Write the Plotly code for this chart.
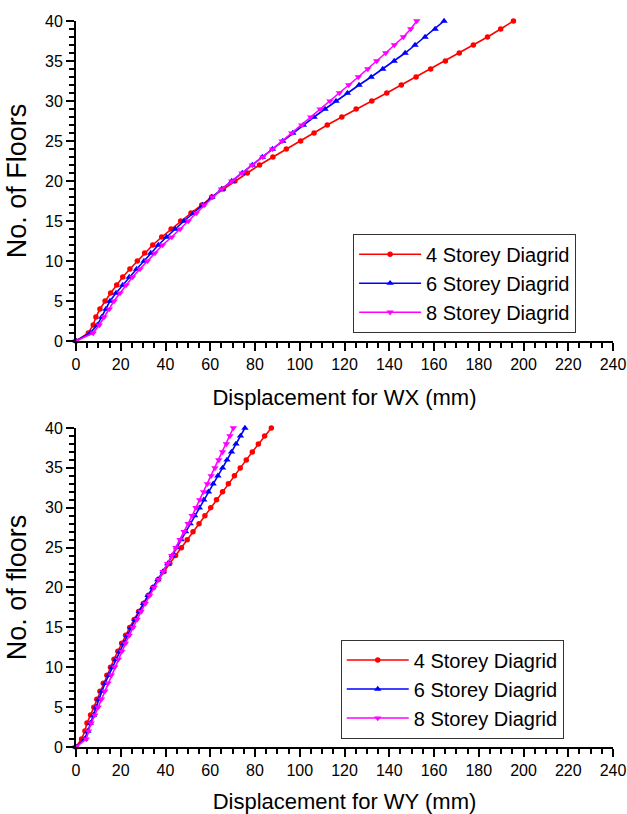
import plotly.graph_objects as go

floors = list(range(0, 41))

# Top panel: displacement for WX (mm)
wx_4 = [0, 5.5, 7.7, 8.9, 10.7, 13.0, 15.5, 18.2, 20.9, 24.1, 27.4, 30.7, 34.3, 38.3, 42.5,
        46.8, 51.4, 56.2, 60.7, 65.9, 71.0, 76.6, 82.0, 88.0, 94.0, 100.4, 106.4, 112.3, 118.8,
        125.2, 132.2, 138.9, 145.4, 152.0, 158.5, 165.1, 171.3, 177.6, 183.9, 189.8, 195.5]
wx_6 = [0, 6.3, 9.5, 11.5, 13.4, 15.2, 17.9, 20.9, 23.8, 27.1, 30.4, 33.4, 36.8, 40.5, 44.3,
        48.3, 52.5, 56.6, 60.7, 65.1, 69.6, 74.3, 78.8, 83.3, 87.8, 92.4, 96.9, 101.6, 106.4,
        111.3, 116.2, 121.3, 126.5, 131.9, 137.1, 142.2, 147.1, 151.5, 156.0, 160.5, 164.5]
wx_8 = [0, 7.7, 10.4, 12.5, 14.9, 17.0, 19.7, 22.4, 25.3, 28.6, 31.9, 35.3, 38.7, 42.8, 46.5,
        50.2, 53.8, 57.3, 61.0, 65.0, 69.6, 74.2, 78.8, 83.5, 87.8, 92.1, 96.4, 100.9, 104.9,
        109.1, 113.5, 117.7, 121.9, 126.2, 130.4, 134.4, 138.4, 142.3, 146.3, 149.6, 152.3]

# Bottom panel: displacement for WY (mm)
wy_4 = [0, 2.5, 4.0, 4.9, 6.5, 8.0, 9.3, 10.7, 12.2, 13.8, 15.4, 17.0, 18.7, 20.4, 22.2,
        24.0, 26.0, 28.0, 30.1, 32.2, 34.4, 36.8, 39.3, 41.9, 44.5, 47.1, 49.7, 52.3, 55.0,
        57.6, 60.2, 62.8, 65.5, 68.1, 70.8, 73.4, 76.1, 78.8, 81.5, 84.3, 87.3]
wy_6 = [0, 3.8, 5.3, 6.4, 7.8, 9.0, 10.2, 11.6, 13.0, 14.6, 16.2, 17.9, 19.6, 21.3, 23.0,
        24.6, 26.4, 28.3, 30.2, 32.2, 34.3, 36.6, 38.9, 41.0, 43.0, 45.0, 47.0, 49.0, 51.0,
        53.0, 55.1, 57.1, 59.2, 61.3, 63.4, 65.5, 67.5, 69.5, 71.5, 73.5, 75.5]
wy_8 = [0, 4.6, 5.6, 6.8, 8.4, 9.9, 11.4, 12.9, 14.3, 15.8, 17.3, 18.9, 20.5, 22.1, 23.8,
        25.5, 27.3, 29.1, 31.0, 32.9, 34.9, 36.9, 38.9, 40.9, 42.8, 44.7, 46.5, 48.3, 50.1,
        51.9, 53.6, 55.3, 57.0, 58.7, 60.4, 62.1, 63.8, 65.5, 67.2, 68.8, 70.3]

series_names = ["4 Storey Diagrid", "6 Storey Diagrid", "8 Storey Diagrid"]
colors = ["#FF0000", "#0000FF", "#FF00FF"]
symbols = ["circle", "triangle-up", "triangle-down"]
msizes = [5.5, 6.5, 6.5]

x_ticks = list(range(0, 241, 20))
y_ticks = list(range(0, 41, 5))

FONT = "Liberation Sans, Arial, sans-serif"

fig = go.Figure()
for i, (vals, name) in enumerate(zip([wx_4, wx_6, wx_8], series_names)):
    fig.add_trace(go.Scatter(
        x=vals, y=floors, mode="lines+markers", name=name,
        line=dict(color=colors[i], width=1.6),
        marker=dict(symbol=symbols[i], size=msizes[i], color=colors[i]),
        xaxis="x", yaxis="y", legend="legend", cliponaxis=False))
for i, (vals, name) in enumerate(zip([wy_4, wy_6, wy_8], series_names)):
    fig.add_trace(go.Scatter(
        x=vals, y=floors, mode="lines+markers", name=name,
        line=dict(color=colors[i], width=1.6),
        marker=dict(symbol=symbols[i], size=msizes[i], color=colors[i]),
        xaxis="x2", yaxis="y2", legend="legend2", cliponaxis=False))

def xaxis(title, anchor):
    return dict(
        range=[0, 240], tickvals=x_ticks, showgrid=False, zeroline=False,
        showline=True, linecolor="black", linewidth=2, mirror=False,
        ticks="outside", ticklen=8, tickwidth=2, tickcolor="black",
        minor=dict(ticks="outside", ticklen=5, tickwidth=1.5, tickcolor="black", dtick=5, showgrid=False),
        tickfont=dict(family=FONT, size=16, color="black"), ticklabeloverflow="allow",
        title=dict(text=title, font=dict(family=FONT, size=22, color="black"), standoff=17),
        anchor=anchor, domain=[0, 1])

def yaxis(title, anchor, domain):
    return dict(
        range=[0, 40], tickvals=y_ticks, showgrid=False, zeroline=False,
        showline=True, linecolor="black", linewidth=2, mirror=False,
        ticks="outside", ticklen=8, tickwidth=2, tickcolor="black",
        minor=dict(ticks="outside", ticklen=5, tickwidth=1.5, tickcolor="black", dtick=1, showgrid=False),
        tickfont=dict(family=FONT, size=16, color="black"),
        title=dict(text=title, font=dict(family=FONT, size=27, color="black"), standoff=11),
        anchor=anchor, domain=domain)

legend_common = dict(
    bgcolor="white", bordercolor="#333333", borderwidth=1,
    font=dict(family=FONT, size=20, color="black"),
    xanchor="left", yanchor="top", itemwidth=62, tracegroupgap=0)

fig.update_layout(
    width=627, height=814,
    margin=dict(l=76, r=14, t=21, b=67, autoexpand=False),
    paper_bgcolor="white", plot_bgcolor="white",
    showlegend=True,
    xaxis=xaxis("Displacement for WX (mm)", "y"),
    yaxis=yaxis("No. of Floors", "x", [0.5592, 1.0]),
    xaxis2=xaxis("Displacement for WY (mm)", "y2"),
    yaxis2=yaxis("No. of floors", "x2", [0.0, 0.4394]),
    legend=dict(x=0.516, y=0.707, **legend_common),
    legend2=dict(x=0.493, y=0.148, **legend_common),
)

# remove the browser's default 8px page margin so the figure fills the window
fig.write_html(
    "out.html",
    config={"displayModeBar": False},
    post_script="document.body.style.margin='0';document.body.style.overflow='hidden';",
)
